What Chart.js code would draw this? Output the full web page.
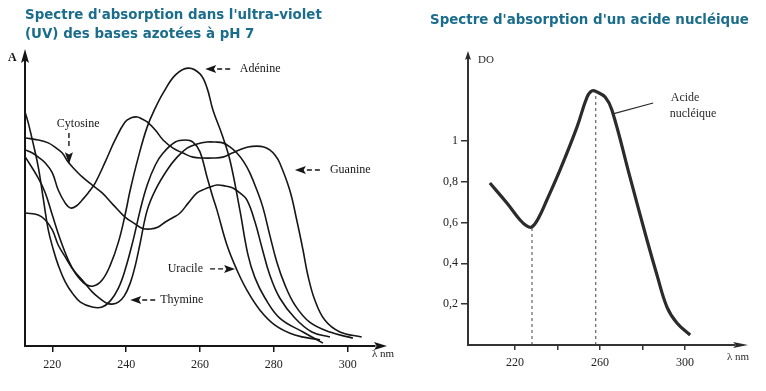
<!DOCTYPE html>
<html lang="fr">
<head>
<meta charset="utf-8">
<title>Spectres d'absorption UV</title>
<script src="https://cdn.jsdelivr.net/npm/chart.js@4.4.1/dist/chart.umd.min.js"></script>
<style>
  body { margin: 0; background: #fff; }
  #wrap { position: relative; width: 766px; height: 391px; overflow: hidden; }
  canvas { position: absolute; top: 0; }
  .title { position: absolute; z-index: 2; color: #1b6d8c; font: bold 13.4px "DejaVu Sans", sans-serif; line-height: 19px; white-space: nowrap; }
</style>
</head>
<body>
<div id="wrap">
  <canvas id="bases" width="400" height="391" style="left:0"></canvas>
  <canvas id="acide" width="366" height="391" style="left:400px"></canvas>
  <div class="title" style="left:25px;top:5px">Spectre d'absorption dans l'ultra-violet<br>(UV) des bases azotées à pH 7</div>
  <div class="title" style="left:430px;top:10px">Spectre d'absorption d'un acide nucléique</div>
</div>
<script>
// Bases azotées : longueur d'onde (nm) et absorbance relative
const adenineNm = [212.7, 216.2, 218.1, 220.0, 222.2, 224.3, 226.2, 228.9, 231.1, 233.5, 235.7, 237.9, 239.7, 241.1, 243.3, 245.7, 247.9, 250.0, 253.3, 256.8, 260.0, 261.9, 263.5, 266.0, 268.1, 270.8, 273.0, 274.9, 277.6, 281.6, 287.9, 293.3];
const adenineA = [0.649, 0.577, 0.526, 0.450, 0.364, 0.296, 0.251, 0.213, 0.206, 0.227, 0.278, 0.357, 0.450, 0.536, 0.649, 0.753, 0.818, 0.869, 0.931, 0.955, 0.935, 0.887, 0.811, 0.725, 0.639, 0.467, 0.313, 0.234, 0.165, 0.096, 0.048, 0.010];

const guanineNm = [212.7, 214.6, 216.2, 218.1, 220.0, 221.6, 223.5, 224.9, 226.5, 228.1, 229.7, 231.6, 234.3, 237.0, 239.7, 241.4, 243.0, 244.3, 245.7, 247.9, 250.0, 252.7, 255.4, 258.1, 260.8, 263.5, 266.2, 268.7, 270.8, 273.0, 275.4, 277.3, 278.9, 280.3, 281.6, 284.3, 286.2, 287.9, 289.2, 291.1, 293.8, 297.9, 303.8];
const guanineA = [0.674, 0.663, 0.649, 0.629, 0.595, 0.536, 0.491, 0.474, 0.481, 0.502, 0.526, 0.560, 0.632, 0.708, 0.770, 0.784, 0.787, 0.780, 0.770, 0.742, 0.708, 0.680, 0.663, 0.649, 0.646, 0.646, 0.649, 0.663, 0.674, 0.684, 0.687, 0.684, 0.674, 0.656, 0.629, 0.536, 0.433, 0.330, 0.244, 0.158, 0.089, 0.048, 0.031];

const cytosineNm = [212.7, 216.2, 218.9, 221.1, 222.7, 224.3, 226.2, 228.1, 230.8, 233.5, 236.5, 239.7, 242.5, 244.3, 246.5, 248.7, 250.6, 252.5, 254.6, 256.8, 259.2, 261.4, 262.7, 264.6, 266.8, 268.9, 270.8, 272.7, 274.9, 276.8, 278.9, 281.6, 285.7, 290.3, 295.2];
const cytosineA = [0.715, 0.708, 0.698, 0.680, 0.663, 0.632, 0.605, 0.581, 0.553, 0.526, 0.485, 0.443, 0.419, 0.405, 0.402, 0.409, 0.426, 0.440, 0.457, 0.491, 0.526, 0.540, 0.546, 0.553, 0.550, 0.543, 0.526, 0.502, 0.426, 0.337, 0.244, 0.165, 0.096, 0.048, 0.031];

const uracileNm = [212.7, 213.5, 214.9, 216.2, 217.6, 218.9, 220.3, 221.6, 223.5, 225.4, 227.6, 230.8, 233.5, 235.7, 237.9, 239.7, 241.9, 243.8, 245.7, 247.9, 250.0, 253.3, 256.0, 258.1, 260.0, 261.9, 263.3, 264.6, 267.3, 270.0, 272.7, 276.2, 280.3, 285.7, 292.5];
const uracileA = [0.801, 0.766, 0.691, 0.615, 0.502, 0.399, 0.330, 0.278, 0.220, 0.182, 0.151, 0.134, 0.134, 0.155, 0.199, 0.261, 0.364, 0.467, 0.553, 0.622, 0.663, 0.701, 0.708, 0.701, 0.667, 0.581, 0.519, 0.467, 0.347, 0.261, 0.192, 0.124, 0.072, 0.038, 0.021];

const thymineNm = [212.7, 216.2, 218.1, 220.0, 221.6, 223.5, 225.7, 228.1, 230.8, 233.0, 234.6, 236.2, 237.9, 239.5, 241.1, 242.5, 243.8, 245.7, 247.9, 251.1, 253.8, 256.5, 259.2, 261.9, 264.1, 266.2, 268.1, 270.0, 271.9, 273.5, 275.4, 277.0, 278.9, 280.8, 283.0, 285.7, 289.7, 295.2, 301.4];
const thymineA = [0.457, 0.450, 0.433, 0.399, 0.347, 0.306, 0.261, 0.227, 0.186, 0.162, 0.148, 0.144, 0.151, 0.172, 0.216, 0.278, 0.354, 0.467, 0.536, 0.605, 0.649, 0.680, 0.694, 0.701, 0.701, 0.698, 0.684, 0.663, 0.632, 0.595, 0.536, 0.478, 0.381, 0.289, 0.210, 0.141, 0.082, 0.048, 0.027];

const basesTicks = [220, 240, 260, 280, 300];

// Acide nucléique : densité optique
const acideNm = [208.2, 216.2, 222.4, 225.5, 228.0, 231.0, 235.0, 241.2, 249.2, 253.9, 256.2, 258.6, 262.4, 265.6, 274.1, 282.1, 286.8, 291.5, 296.2, 302.4];
const acideDO = [0.793, 0.695, 0.612, 0.583, 0.578, 0.620, 0.710, 0.857, 1.068, 1.214, 1.244, 1.239, 1.214, 1.151, 0.822, 0.514, 0.343, 0.186, 0.108, 0.049];
const acideMin = [228, 0.578];
const acidePic = [258, 1.24];
const acideTicksX = [220, 240, 260, 280, 300];
const acideLabelsX = [220, 260, 300];
const acideTicksY = [0.2, 0.4, 0.6, 0.8, 1];

const ink = '#161616';
const serif = '"Liberation Serif", "Times New Roman", serif';

function pts(xs, ys) {
  return xs.map((v, i) => ({ x: v, y: ys[i] }));
}

function curve(xs, ys) {
  return {
    data: pts(xs, ys),
    borderColor: ink,
    borderWidth: 1.6,
    pointRadius: 0,
    tension: 0.4,
    fill: false
  };
}

// small filled arrow head, tip at (x, y)
function arrowHead(ctx, x, y, dir, len, half) {
  ctx.beginPath();
  if (dir === 'left') {
    ctx.moveTo(x, y); ctx.lineTo(x + len, y - half); ctx.lineTo(x + len * 0.8, y); ctx.lineTo(x + len, y + half);
  } else if (dir === 'right') {
    ctx.moveTo(x, y); ctx.lineTo(x - len, y - half); ctx.lineTo(x - len * 0.8, y); ctx.lineTo(x - len, y + half);
  } else if (dir === 'up') {
    ctx.moveTo(x, y); ctx.lineTo(x - half, y + len); ctx.lineTo(x, y + len * 0.8); ctx.lineTo(x + half, y + len);
  } else {
    ctx.moveTo(x, y); ctx.lineTo(x - half, y - len); ctx.lineTo(x, y - len * 0.8); ctx.lineTo(x + half, y - len);
  }
  ctx.closePath();
  ctx.fill();
}

// "◄--" style pointer used for the labels
function pointer(ctx, x, y, dir) {
  const s = dir === 'left' ? 1 : -1;
  arrowHead(ctx, x, y, dir, 11, 4);
  ctx.lineWidth = 1.4;
  ctx.beginPath();
  ctx.moveTo(x + s * 12, y); ctx.lineTo(x + s * 17, y);
  ctx.moveTo(x + s * 20, y); ctx.lineTo(x + s * 25, y);
  ctx.stroke();
}

const basesNotes = [
  { text: 'Adénine', nm: 270.8, a: 0.952, tip: 261.4, dir: 'left' },
  { text: 'Guanine', nm: 295.2, a: 0.605, tip: 285.7, dir: 'left' },
  { text: 'Thymine', nm: 249.2, a: 0.158, tip: 241.1, dir: 'left' },
  { text: 'Uracile', nm: 260.8, a: 0.265, tip: 269.5, dir: 'right' }
];

const basesDecor = {
  id: 'basesDecor',
  afterDraw(chart) {
    const { ctx, chartArea: a, scales: { x, y } } = chart;
    ctx.save();
    ctx.fillStyle = ink;
    ctx.strokeStyle = ink;
    arrowHead(ctx, a.left, a.top - 6, 'up', 14, 4);
    arrowHead(ctx, a.right + 12, a.bottom, 'right', 13, 4);

    ctx.textBaseline = 'middle';
    ctx.font = 'bold 12px ' + serif;
    ctx.fillText('A', a.left - 17, a.top + 3);
    ctx.font = '11px ' + serif;
    ctx.fillText('λ nm', a.right - 3, a.bottom + 8);

    ctx.font = '12px ' + serif;
    basesNotes.forEach(n => {
      const py = y.getPixelForValue(n.a);
      pointer(ctx, x.getPixelForValue(n.tip), py, n.dir);
      ctx.textAlign = n.dir === 'left' ? 'left' : 'right';
      ctx.fillText(n.text, x.getPixelForValue(n.nm), py);
    });

    // Cytosine, arrow pointing down
    const cx = x.getPixelForValue(224.5);
    ctx.textAlign = 'center';
    ctx.fillText('Cytosine', x.getPixelForValue(227.0), y.getPixelForValue(0.763));
    const top = y.getPixelForValue(0.732);
    const tip = y.getPixelForValue(0.625);
    ctx.lineWidth = 1.4;
    ctx.beginPath();
    ctx.moveTo(cx, top); ctx.lineTo(cx, top + 5);
    ctx.moveTo(cx, top + 8); ctx.lineTo(cx, top + 13);
    ctx.stroke();
    arrowHead(ctx, cx, tip, 'down', 12, 4);
    ctx.restore();
  }
};

const acideDecor = {
  id: 'acideDecor',
  afterDraw(chart) {
    const { ctx, chartArea: a, scales: { x, y } } = chart;
    ctx.save();
    ctx.fillStyle = '#2a2a2a';
    ctx.strokeStyle = '#2a2a2a';
    arrowHead(ctx, a.left, a.top - 4, 'up', 9, 3);
    arrowHead(ctx, a.right + 13, a.bottom, 'right', 15, 3);

    ctx.textBaseline = 'middle';
    ctx.font = '11px ' + serif;
    ctx.fillText('DO', a.left + 10, a.top + 5);
    ctx.fillText('λ nm', a.right - 8, a.bottom + 12);

    ctx.font = '12px ' + serif;
    ctx.textAlign = 'center';
    ctx.fillText('Acide', x.getPixelForValue(300.0), y.getPixelForValue(1.21));
    ctx.fillText('nucléique', x.getPixelForValue(303.8), y.getPixelForValue(1.132));
    ctx.lineWidth = 1.2;
    ctx.beginPath();
    ctx.moveTo(x.getPixelForValue(285.0), y.getPixelForValue(1.185));
    ctx.lineTo(x.getPixelForValue(266.1), y.getPixelForValue(1.132));
    ctx.stroke();
    ctx.restore();
  }
};

new Chart(document.getElementById('bases'), {
  type: 'line',
  data: {
    datasets: [
      curve(adenineNm, adenineA),
      curve(guanineNm, guanineA),
      curve(cytosineNm, cytosineA),
      curve(uracileNm, uracileA),
      curve(thymineNm, thymineA)
    ]
  },
  options: {
    responsive: false,
    animation: false,
    events: [],
    layout: { padding: { left: 25, right: 25, top: 55, bottom: 0 } },
    plugins: { legend: { display: false }, tooltip: { enabled: false } },
    scales: {
      x: {
        type: 'linear',
        min: 212.6,
        max: 307.4,
        afterBuildTicks: s => { s.ticks = basesTicks.map(v => ({ value: v })); },
        afterFit: s => { s.height = 45; },
        grid: { drawOnChartArea: false, tickLength: 6, color: ink, lineWidth: 1.5 },
        border: { color: ink, width: 2 },
        ticks: { color: '#222', padding: 6, maxRotation: 0, autoSkip: false, font: { family: serif, size: 12 } }
      },
      y: {
        min: 0,
        max: 1,
        afterFit: s => { s.width = 0; },
        grid: { display: false },
        ticks: { display: false },
        border: { color: ink, width: 2 }
      }
    }
  },
  plugins: [basesDecor]
});

new Chart(document.getElementById('acide'), {
  type: 'line',
  data: {
    datasets: [
      {
        data: [{ x: acideMin[0], y: 0 }, { x: acideMin[0], y: acideMin[1] }],
        borderColor: '#444', borderWidth: 1, borderDash: [3, 3], pointRadius: 0
      },
      {
        data: [{ x: acidePic[0], y: 0 }, { x: acidePic[0], y: acidePic[1] }],
        borderColor: '#444', borderWidth: 1, borderDash: [3, 3], pointRadius: 0
      },
      {
        data: pts(acideNm, acideDO),
        borderColor: '#2b2b2b', borderWidth: 3.2, pointRadius: 0,
        tension: 0.4, fill: false
      }
    ]
  },
  options: {
    responsive: false,
    animation: false,
    events: [],
    layout: { padding: { left: 0, right: 31, top: 55, bottom: 0 } },
    plugins: { legend: { display: false }, tooltip: { enabled: false } },
    scales: {
      x: {
        type: 'linear',
        min: 197.9,
        max: 323.5,
        afterBuildTicks: s => { s.ticks = acideTicksX.map(v => ({ value: v })); },
        afterFit: s => { s.height = 46; },
        grid: { drawOnChartArea: false, tickLength: 5, color: '#333', lineWidth: 1.5 },
        border: { color: '#333', width: 2 },
        ticks: {
          color: '#222', padding: 6, maxRotation: 0, autoSkip: false,
          font: { family: serif, size: 12 },
          callback: v => acideLabelsX.includes(v) ? String(v) : ''
        }
      },
      y: {
        min: 0,
        max: 1.42,
        afterBuildTicks: s => { s.ticks = acideTicksY.map(v => ({ value: v })); },
        afterFit: s => { s.width = 68; },
        grid: { drawOnChartArea: false, tickLength: 7, color: '#333', lineWidth: 1.5 },
        border: { color: '#333', width: 2 },
        ticks: {
          color: '#222', padding: 3,
          font: { family: serif, size: 12 },
          callback: v => String(v).replace('.', ',')
        }
      }
    }
  },
  plugins: [acideDecor]
});
</script>
</body>
</html>
